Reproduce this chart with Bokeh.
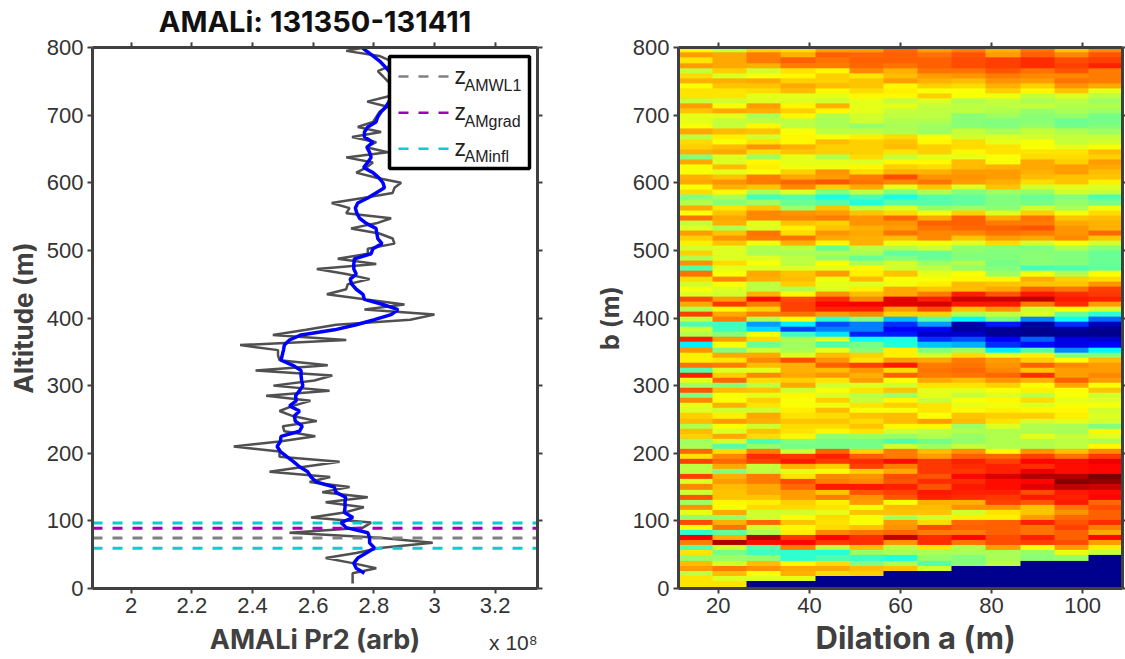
from bokeh.embed import file_html
from bokeh.resources import INLINE
from bokeh.plotting import figure
from bokeh.layouts import row
from bokeh.models import (Range1d, LinearAxis, FixedTicker, Label, LinearColorMapper, Title)
from bokeh.core.properties import value
import numpy as np

# ---------- left panel data (altitude step 7.5 m, Pr2 in units of 1e8) ----------
raw_alt = [7.5 + 7.5 * k for k in range(107)]
raw_pr2 = [
 2.730,2.730,2.730,2.808,2.730,2.641,2.742,2.819,2.994,2.819,
 2.522,2.764,2.791,2.593,2.703,2.767,2.641,2.780,2.630,2.720,
 2.588,2.656,2.456,2.571,2.687,2.489,2.489,2.338,2.489,2.607,
 2.505,2.500,2.612,2.533,2.489,2.533,2.591,2.445,2.654,2.469,
 2.604,2.663,2.410,2.648,2.489,2.484,2.484,2.359,2.709,2.467,
 2.577,2.676,2.920,3.000,2.769,2.901,2.775,2.645,2.709,2.714,
 2.786,2.709,2.612,2.808,2.681,2.780,2.780,2.868,2.862,2.818,
 2.725,2.808,2.857,2.709,2.720,2.661,2.764,2.862,2.868,2.890,
 2.808,2.742,2.775,2.797,2.709,2.846,2.775,2.808,2.728,2.824,
 2.747,2.797,2.808,2.819,2.846,2.778,2.846,2.874,2.884,2.846,
 2.830,2.813,2.852,2.857,2.818,2.709,2.800]
smooth_alt = [22.5 + 7.5 * k for k in range(105)]
smooth_pr2 = [
 2.769,2.742,2.734,2.747,2.775,2.802,2.786,2.786,2.780,2.709,
 2.692,2.731,2.703,2.705,2.705,2.707,2.674,2.670,2.610,2.593,
 2.582,2.555,2.535,2.513,2.492,2.481,2.492,2.494,2.555,2.564,
 2.541,2.538,2.555,2.522,2.544,2.542,2.555,2.566,2.562,2.560,
 2.560,2.533,2.494,2.498,2.502,2.505,2.522,2.560,2.670,2.742,
 2.802,2.857,2.880,2.830,2.769,2.764,2.742,2.727,2.722,2.742,
 2.734,2.734,2.736,2.791,2.797,2.827,2.813,2.810,2.807,2.775,
 2.753,2.744,2.739,2.747,2.780,2.807,2.835,2.830,2.816,2.797,
 2.766,2.780,2.791,2.786,2.777,2.797,2.769,2.769,2.780,2.807,
 2.813,2.824,2.840,2.850,2.860,2.870,2.870,2.860,2.860,2.850,
 2.835,2.819,2.797,2.775,2.755]
z_amwl1 = [74.5]
z_amgrad = [89.0]
z_aminfl = [59.6, 97.0]

# ---------- right panel data: rows listed top (b=795) to bottom (b=0) ----------
dilation_a = [15 + 7.5 * i for i in range(13)]
b_alt = [795 - 7.5 * j for j in range(107)]
wavelet = [
 [63,58,67,66,72,72,77,72,75,70,76,68,74],
 [72,71,75,70,78,77,78,76,79,72,78,74,79],
 [65,71,75,78,76,78,78,78,80,81,83,80,81],
 [72,71,70,75,75,77,76,78,80,81,83,81,84],
 [57,67,58,65,63,74,70,76,76,79,76,79,75],
 [66,59,62,63,67,65,69,72,73,75,74,74,75],
 [70,70,71,67,67,68,72,70,69,73,72,76,75],
 [62,68,68,71,69,68,63,67,66,70,67,73,71],
 [65,65,66,69,63,66,64,62,62,67,63,68,60],
 [65,65,60,60,60,63,63,67,62,61,57,59,56],
 [57,58,59,59,58,60,57,59,55,57,54,56,53],
 [72,62,72,63,70,60,60,57,56,56,57,55,55],
 [68,71,70,67,63,60,57,56,56,55,52,54,53],
 [60,60,54,63,55,58,56,56,51,53,51,52,49],
 [60,57,56,56,54,58,55,55,51,50,51,48,49],
 [62,57,63,56,54,52,54,53,51,50,52,49,50],
 [71,69,68,62,56,56,55,53,57,54,57,55,53],
 [56,64,58,63,62,64,66,62,58,59,58,57,57],
 [66,62,65,63,69,67,68,63,66,60,62,57,58],
 [67,69,73,70,67,67,69,67,66,65,62,60,62],
 [70,71,66,68,67,67,65,67,63,65,65,65,69],
 [50,59,53,60,55,66,57,60,60,62,66,66,67],
 [71,59,63,60,60,59,63,63,69,62,71,67,72],
 [62,69,64,61,61,63,67,66,69,70,71,72,71],
 [62,60,62,67,73,66,70,70,72,72,70,72,69],
 [70,68,75,71,72,75,80,73,73,72,69,68,68],
 [71,73,75,77,79,76,74,76,72,70,66,68,64],
 [62,70,68,74,67,71,60,68,59,68,58,60,59],
 [66,63,54,59,50,56,50,55,50,53,52,58,57],
 [50,54,44,46,40,45,40,46,47,50,48,50,45],
 [55,51,53,48,46,41,46,46,47,50,49,52,49],
 [71,65,68,53,68,56,59,52,53,51,58,54,61],
 [62,68,74,73,72,68,66,61,67,59,67,61,66],
 [76,71,74,74,75,73,77,71,78,71,76,68,69],
 [57,70,60,68,67,73,73,78,78,75,75,71,70],
 [59,55,59,64,68,70,72,76,77,78,79,73,70],
 [72,68,76,66,73,71,76,74,74,76,75,73,77],
 [67,73,75,76,71,70,69,74,68,72,71,74,68],
 [64,68,61,70,63,70,61,61,59,66,58,62,58],
 [58,59,55,56,48,56,55,58,52,51,50,55,51],
 [67,59,54,54,54,54,47,48,51,50,51,50,48],
 [55,59,59,56,52,48,50,48,50,50,51,50,48],
 [73,66,62,56,62,54,58,53,55,49,51,50,48],
 [46,60,59,59,60,63,58,56,52,50,44,45,47],
 [76,62,71,68,72,64,68,60,62,53,61,55,62],
 [66,74,70,69,61,69,62,62,63,63,70,67,66],
 [58,62,56,67,60,59,61,64,69,68,68,68,73],
 [62,59,56,55,59,64,71,68,69,71,78,76,81],
 [59,58,70,63,73,69,71,75,84,79,85,83,82],
 [80,72,86,80,83,74,90,84,92,92,93,85,84],
 [71,82,75,81,87,88,90,91,85,85,75,83,72],
 [55,63,67,81,84,84,72,80,68,73,58,62,58],
 [81,71,75,76,72,74,67,67,55,57,59,48,42],
 [57,75,55,62,42,50,31,46,37,49,26,39,23],
 [45,44,28,36,20,25,17,28,3,15,2,17,5],
 [58,44,34,19,25,25,12,10,2,1,0,2,0],
 [55,51,61,43,35,16,15,6,6,1,0,0,0],
 [84,72,66,54,59,38,40,17,20,12,22,8,7],
 [36,62,48,53,45,49,41,32,30,17,14,9,11],
 [73,50,58,54,60,51,64,50,53,36,45,26,37],
 [64,71,71,59,69,67,64,58,66,60,64,50,51],
 [64,65,74,80,73,65,72,71,75,72,67,62,69],
 [76,75,69,70,78,81,85,75,76,73,78,74,72],
 [46,59,60,70,69,73,66,76,77,74,68,72,72],
 [84,67,74,71,73,70,78,75,76,77,83,72,74],
 [60,77,66,67,65,72,62,71,69,73,70,78,72],
 [53,51,56,71,58,59,58,65,65,67,62,71,62],
 [79,69,68,58,62,65,68,60,60,62,64,62,68],
 [50,62,60,63,59,56,53,60,57,59,56,62,58],
 [74,62,67,62,67,57,63,57,62,63,66,60,59],
 [60,70,65,62,61,65,67,65,60,61,59,62,62],
 [59,58,58,64,69,62,62,65,63,64,63,63,58],
 [67,64,71,65,66,68,69,62,68,67,67,64,59],
 [69,72,70,68,68,66,69,72,69,65,58,60,58],
 [55,62,58,66,66,68,63,63,53,59,55,54,50],
 [69,59,68,65,63,65,58,56,55,55,55,54,63],
 [67,71,66,63,52,53,52,55,52,55,60,57,59],
 [53,58,45,50,49,49,45,49,52,55,55,56,54],
 [54,46,52,49,49,49,58,53,57,55,55,56,63],
 [77,66,75,58,78,67,75,69,73,63,73,69,74],
 [65,74,83,82,84,78,75,72,78,77,81,76,82],
 [81,77,81,85,82,83,86,82,84,81,87,86,89],
 [56,71,57,70,67,81,75,82,83,84,83,86,87],
 [56,50,56,60,62,67,71,82,82,84,89,86,87],
 [81,70,75,65,74,73,80,79,87,91,95,95,100],
 [59,72,75,80,75,74,79,83,83,86,87,99,98],
 [74,69,71,77,85,85,84,79,85,86,90,93,92],
 [58,68,71,72,68,79,81,85,84,84,80,85,86],
 [79,68,68,72,75,73,79,84,83,82,85,84,87],
 [53,63,64,67,64,72,62,70,70,81,79,85,77],
 [73,62,66,66,65,62,69,69,73,73,68,76,80],
 [60,71,58,58,60,68,68,68,58,65,68,73,78],
 [52,52,58,62,66,62,54,58,64,64,72,77,78],
 [80,70,77,68,65,62,72,66,77,78,84,79,83],
 [62,76,58,63,66,68,73,80,78,78,76,81,75],
 [42,47,55,64,74,76,77,75,75,78,76,78,71],
 [88,70,94,82,87,83,93,83,87,80,84,78,87],
 [75,95,86,87,82,83,73,83,76,80,81,80,72],
 [46,58,46,75,56,69,56,65,55,72,62,72,64],
 [65,49,44,42,41,52,54,54,54,54,52,60,57],
 [52,53,52,42,45,43,41,52,50,54,51,52,0],
 [69,58,69,63,66,50,55,46,51,56,0,0,0],
 [72,75,73,71,71,69,68,58,0,0,0,0,0],
 [56,69,62,70,66,67,0,0,0,0,0,0,0],
 [65,59,59,60,0,0,0,0,0,0,0,0,0],
 [65,65,0,0,0,0,0,0,0,0,0,0,0],
 [65,65,0,0,0,0,0,0,0,0,0,0,0],
]

xticks_left = [2, 2.2, 2.4, 2.6, 2.8, 3, 3.2]
xticks_right = [20, 40, 60, 80, 100]
yticks = [0, 100, 200, 300, 400, 500, 600, 700, 800]
legend_names = ["AMWL1", "AMgrad", "AMinfl"]
legend_colors = ["#808080", "#A000B0", "#00D0D0"]

# ---------- styling ----------
AXC = "#404040"
TICKC = "#333333"
SANS = "Liberation Sans"
BOLD = "Inter"

def jet(n=256):
    t = np.linspace(0, 1, n)
    r = np.clip(np.minimum(4 * t - 1.5, 4.5 - 4 * t), 0, 1)
    g = np.clip(np.minimum(4 * t - 0.5, 3.5 - 4 * t), 0, 1)
    b = np.clip(np.minimum(4 * t + 0.56, 2.5 - 4 * t), 0, 1)
    return ["#%02X%02X%02X" % (int(a * 255), int(c * 255), int(d * 255)) for a, c, d in zip(r, g, b)]

def style(p, xt, right_out=5):
    p.xaxis.ticker = FixedTicker(ticks=xt)
    p.yaxis.ticker = FixedTicker(ticks=yticks)
    for ax, t in ((LinearAxis(ticker=FixedTicker(ticks=xt), major_label_overrides={v: "" for v in xt}), "above"),
                  (LinearAxis(ticker=FixedTicker(ticks=yticks), major_label_overrides={v: "" for v in yticks}), "right")):
        p.add_layout(ax, t)
        ax.major_label_standoff = 0
        ax.major_label_text_font_size = "1px"
        ax.major_tick_out = right_out if t == "right" else 5
    for ax in p.xaxis + p.yaxis:
        ax.axis_line_color = AXC
        ax.axis_line_width = 3
        ax.major_tick_line_color = AXC
        ax.major_tick_line_width = 2
        ax.major_tick_in = 0
        ax.minor_tick_line_color = None
    for ax in (p.below[0], p.left[0]):
        ax.major_tick_out = 5
        ax.major_label_text_font = SANS
        ax.major_label_text_font_size = "22px"
        ax.major_label_text_color = TICKC
        ax.major_label_standoff = 4
        ax.axis_label_text_font = BOLD
        ax.axis_label_text_font_style = "bold"
        ax.axis_label_text_font_size = "26px"
        ax.axis_label_text_color = AXC
    p.grid.visible = False
    p.outline_line_color = None
    p.background_fill_color = "white"
    p.border_fill_color = "white"

# ---------- left figure ----------
XL0, XL1 = 1.8724, 3.3396
p1 = figure(frame_width=445, frame_height=541, output_backend="svg", toolbar_location=None,
            x_range=Range1d(XL0, XL1), y_range=Range1d(0, 800),
            min_border_left=92, min_border_right=54, min_border_top=47, min_border_bottom=71,
            y_axis_label="Altitude (m)")
style(p1, xticks_left)
p1.xaxis[0].major_label_overrides = {2: "2", 2.2: "2.2", 2.4: "2.4", 2.6: "2.6", 2.8: "2.8", 3: "3", 3.2: "3.2"}
p1.title.text = "AMALi: 131350-131411"
p1.title.text_font = BOLD
p1.title.text_font_size = "29px"
p1.title.text_color = "#111111"
p1.title.align = "center"
p1.title.offset = 0
p1.title.standoff = 0

# a second, bare bottom axis carries the axis title and the exponent note
exp_tick = 3.26
low_axis = LinearAxis(ticker=FixedTicker(ticks=[exp_tick]), major_label_overrides={exp_tick: "x 10\u2078"},
                      axis_line_color=None, major_tick_line_color=None, minor_tick_line_color=None,
                      major_tick_out=0, major_tick_in=0, major_label_standoff=15,
                      major_label_text_font=SANS, major_label_text_font_size="21px", major_label_text_color=TICKC,
                      axis_label="AMALi Pr2 (arb)", axis_label_standoff=-34, axis_label_text_font=BOLD,
                      axis_label_text_font_style="bold", axis_label_text_font_size="27px", axis_label_text_color=AXC)
p1.add_layout(low_axis, "below")

def X(px):
    return XL0 + (px - 93) * (XL1 - XL0) / 445

def Y(py):
    return (589 - py) * 800 / 541

p1.line(raw_pr2, raw_alt, line_color="#505050", line_width=2.5)
for vals, col in ((z_amwl1, legend_colors[0]), (z_amgrad, legend_colors[1]), (z_aminfl, legend_colors[2])):
    for z in vals:
        p1.line([XL0, XL1], [z, z], line_color=col, line_width=3, line_dash="10 10")
p1.line(smooth_pr2, smooth_alt, line_color="#0000FF", line_width=3.5)

p1.quad(left=[X(390)], right=[X(530)], top=[Y(57)], bottom=[Y(169)], fill_color="white",
        line_color="black", line_width=3.5)
for name, col, dash_y, z_y, sub_y in zip(legend_names, legend_colors, (77, 113.3, 149.3), (76, 112.3, 148.3), (85.7, 121.7, 157.3)):
    p1.line([X(399), X(450)], [Y(dash_y), Y(dash_y)], line_color=col, line_width=2.5, line_dash="10 10")
    p1.add_layout(Label(x=X(455), y=Y(z_y), text="z", text_font=SANS, text_font_size="23px",
                        text_color="#222222", text_baseline="alphabetic"))
    p1.add_layout(Label(x=X(465), y=Y(sub_y), text=name, text_font=SANS, text_font_size="16px",
                        text_color="#222222", text_baseline="alphabetic"))

# ---------- right figure ----------
p2 = figure(frame_width=444, frame_height=541, output_backend="svg", toolbar_location=None,
            x_range=Range1d(11.25, 108.75), y_range=Range1d(0, 800),
            min_border_left=78, min_border_right=3, min_border_top=47, min_border_bottom=71,
            y_axis_label="b (m)")
style(p2, xticks_right, right_out=3)
p2.yaxis[0].axis_label_text_font_size = "25px"
mapper = LinearColorMapper(palette=jet(), low=0, high=100)
grid = np.array(wavelet[::-1], dtype=float)
p2.image(image=[grid], x=dilation_a[0] - 3.75, y=b_alt[-1] - 3.75, dw=7.5 * len(dilation_a), dh=7.5 * len(b_alt),
         color_mapper=mapper)
p2.add_layout(Title(text="Dilation a (m)", align="left", offset=137, standoff=2, text_font=BOLD,
                    text_font_style="bold", text_font_size="31px", text_color=AXC), "below")

open("out.html", "w").write(file_html(row(p1, p2), INLINE))
